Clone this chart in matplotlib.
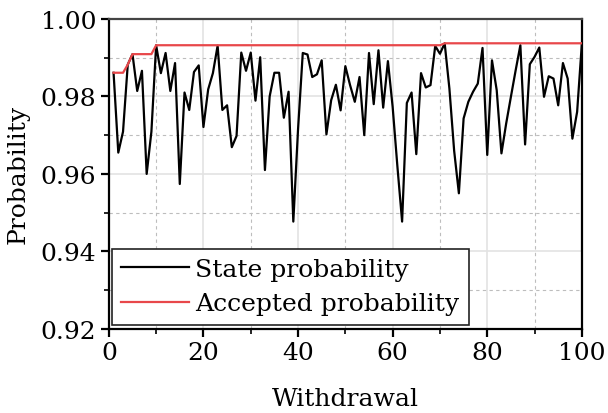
import numpy as np
import matplotlib
matplotlib.use("Agg")
import matplotlib.pyplot as plt
from matplotlib.ticker import MultipleLocator, FormatStrFormatter

withdrawal = list(range(1, 101))
state_probability = [
    0.9861, 0.9655, 0.9709, 0.9882, 0.9909, 0.9814, 0.9866, 0.9600, 0.9709, 0.9932,
    0.9860, 0.9912, 0.9814, 0.9886, 0.9574, 0.9810, 0.9765, 0.9863, 0.9880, 0.9721,
    0.9818, 0.9860, 0.9931, 0.9765, 0.9777, 0.9669, 0.9698, 0.9913, 0.9866, 0.9913,
    0.9789, 0.9901, 0.9610, 0.9800, 0.9861, 0.9861, 0.9745, 0.9812, 0.9477, 0.9715,
    0.9912, 0.9908, 0.9850, 0.9857, 0.9893, 0.9702, 0.9790, 0.9830, 0.9764, 0.9878,
    0.9829, 0.9786, 0.9850, 0.9700, 0.9912, 0.9780, 0.9919, 0.9771, 0.9891, 0.9773,
    0.9620, 0.9477, 0.9783, 0.9810, 0.9651, 0.9860, 0.9823, 0.9829, 0.9930, 0.9910,
    0.9937, 0.9820, 0.9660, 0.9550, 0.9743, 0.9786, 0.9812, 0.9833, 0.9925, 0.9649,
    0.9893, 0.9816, 0.9653, 0.9730, 0.9799, 0.9867, 0.9932, 0.9676, 0.9883, 0.9902,
    0.9926, 0.9799, 0.9852, 0.9846, 0.9777, 0.9886, 0.9846, 0.9691, 0.9760, 0.9936,
]
# accepted probability = best state probability found so far
accepted_probability = list(np.maximum.accumulate(state_probability))

x_ticks = [0, 20, 40, 60, 80, 100]
y_ticks = [0.92, 0.94, 0.96, 0.98, 1.00]

plt.rcParams['font.family'] = ['DejaVu Serif']
plt.rcParams['mathtext.fontset'] = 'dejavuserif'

fig = plt.figure(figsize=(6.08, 4.14), dpi=100)
ax = fig.add_axes([0.179, 0.203, 0.778, 0.749])

ax.plot(withdrawal, state_probability, color='black', lw=1.6, label='State probability', zorder=3)
ax.plot(withdrawal, accepted_probability, color='#e8474a', lw=1.6, label='Accepted probability', zorder=4)

ax.set_xlim(0, 100)
ax.set_ylim(0.92, 1.00)
ax.set_xticks(x_ticks)
ax.set_yticks(y_ticks)
ax.xaxis.set_minor_locator(MultipleLocator(10))
ax.yaxis.set_minor_locator(MultipleLocator(0.01))
ax.yaxis.set_major_formatter(FormatStrFormatter('%.2f'))

ax.grid(which='major', color='#e3e3e3', lw=1.2, ls='-', zorder=0)
ax.grid(which='minor', color='#bdbdbd', lw=0.8, ls=(0, (3, 3)), zorder=0)
ax.set_axisbelow(True)

ax.tick_params(which='major', direction='out', length=6, width=1.6, labelsize=18, pad=3,
               top=False, right=False)
ax.tick_params(which='minor', direction='out', length=3.5, width=1.2, top=False, right=False)

for side in ['left', 'bottom', 'right']:
    ax.spines[side].set_linewidth(1.6)
    ax.spines[side].set_color('black')
ax.spines['top'].set_linewidth(1.6)
ax.spines['top'].set_color('#444444')

ax.set_xlabel('Withdrawal', fontsize=18, labelpad=16)
ax.set_ylabel('Probability', fontsize=18, labelpad=8)

leg = ax.legend(loc='lower left', bbox_to_anchor=(0.006, 0.013), borderaxespad=0,
                fontsize=18, handlelength=2.7, handletextpad=0.25, labelspacing=0.45,
                borderpad=0.38, fancybox=False, framealpha=1, edgecolor='#222222')
leg.get_frame().set_linewidth(1.2)

fig.savefig('out.png', dpi=100)
